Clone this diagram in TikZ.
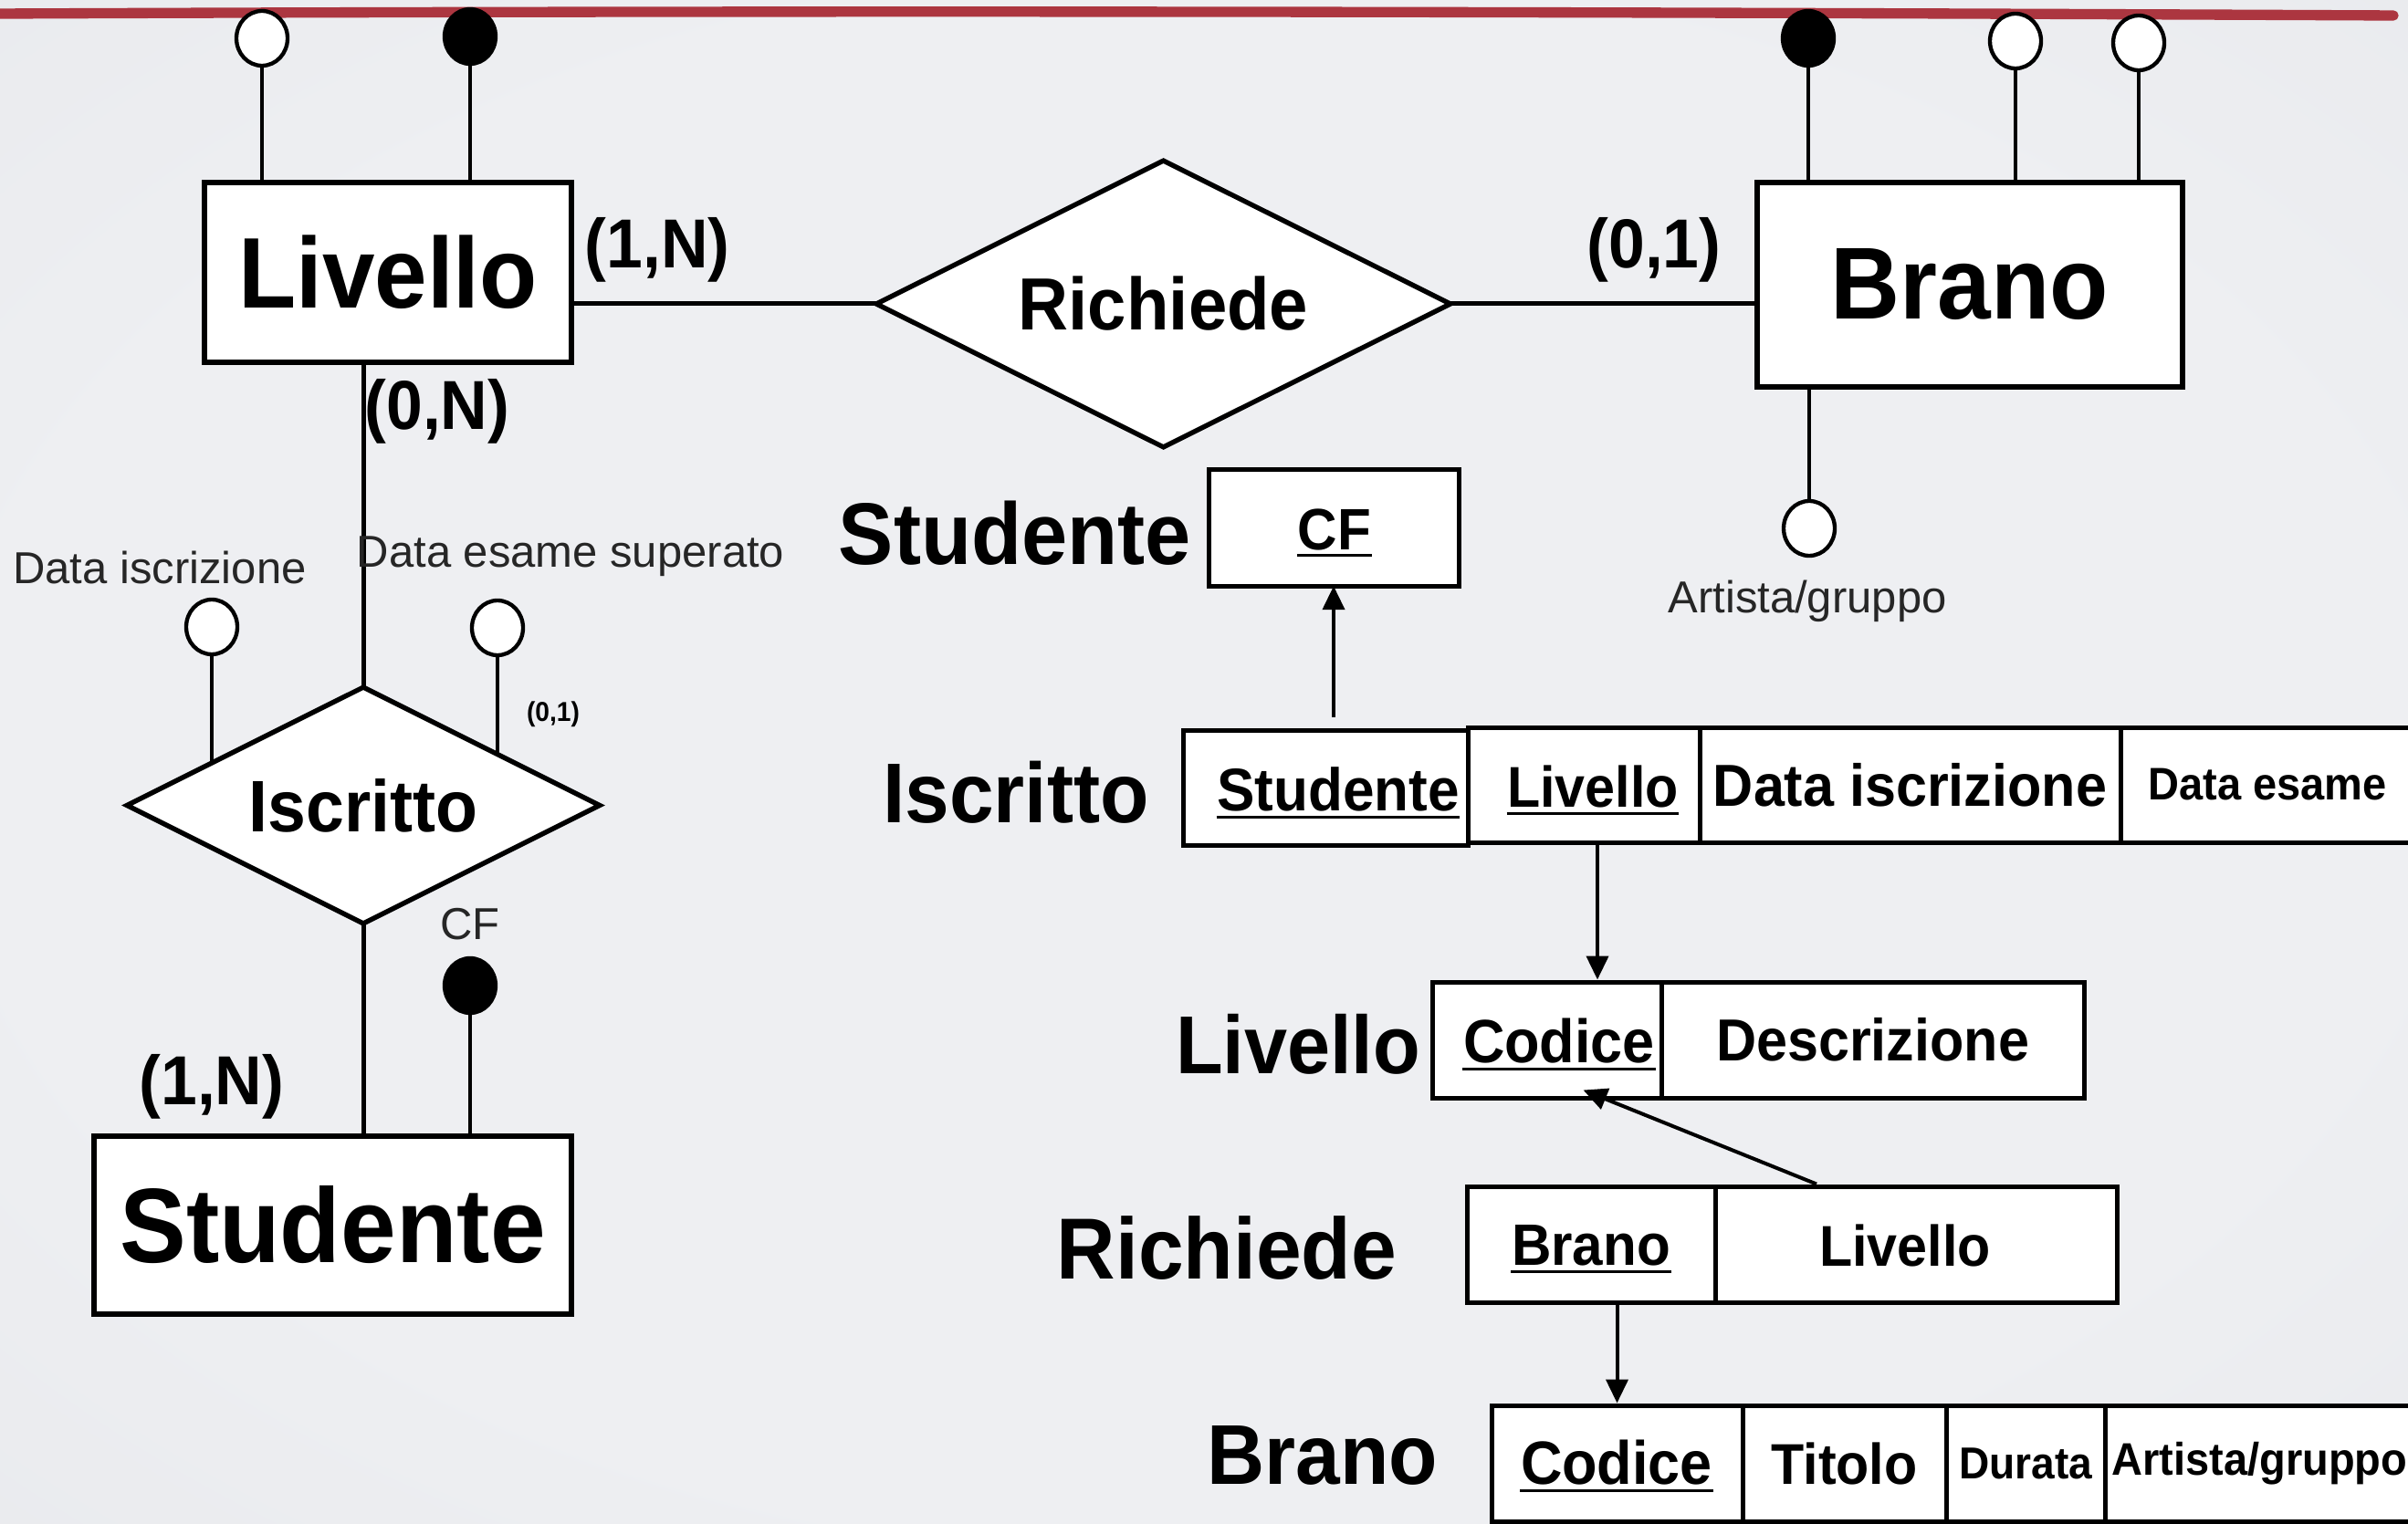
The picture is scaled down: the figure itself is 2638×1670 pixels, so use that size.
\documentclass[tikz,border=0pt]{standalone}
\usepackage{fontspec}
\setmainfont{Liberation Sans}
\newfontfamily\heavy{Liberation Sans Bold}[FakeStretch=0.94]
\usetikzlibrary{shapes.geometric,arrows.meta}
\pgfdeclarelayer{bg}
\pgfsetlayers{bg,main}
\definecolor{bgin}{HTML}{EEEFF2}
\definecolor{bgout}{HTML}{DBDDE1}
\definecolor{slide}{HTML}{AC3640}
\definecolor{thin}{HTML}{262626}
\pgfdeclareradialshading{vignette}{\pgfpoint{0bp}{0bp}}{color(0bp)=(bgin); color(25bp)=(bgin); color(72bp)=(bgout)}
\newcommand\fs[1]{\fontsize{#1}{#1}\selectfont}
\tikzset{
  ent/.style={draw, line width=1.8pt, fill=white, inner sep=0pt, rectangle},
  rel/.style={draw, diamond, aspect=2, line width=1.6pt, fill=white, inner sep=0pt},
  attr/.style={draw, ellipse, line width=1.3pt, fill=white, minimum width=16.8pt, minimum height=18pt, inner sep=0pt},
  keyattr/.style={attr, fill=black},
  link/.style={line width=1.5pt},
  alink/.style={line width=1.2pt},
  card/.style={inner sep=0pt, font=\heavy\fs{22.8pt}},
  lbl/.style={inner sep=0pt, text=thin, font=\fs{14.7pt}},
  tname/.style={inner sep=0pt},
  cell/.style={draw, line width=1.5pt, fill=white, inner sep=0pt, minimum height=38.1pt, font=\heavy\fs{19.5pt}},
  ctext/.style={inner sep=0pt},
  fk/.style={line width=1.2pt, -{Triangle[length=7.8pt,width=7.2pt]}},
  uline/.style={line width=0.9pt},
  redline/.style={draw=slide, line width=3.4pt, line cap=round}
}
\begin{document}
\begin{tikzpicture}[x=0.3pt,y=-0.3pt]
\useasboundingbox (0,0) rectangle (2638,1670);

% ---------- E/R schema ----------
\node[ent, minimum width=120.6pt, minimum height=59.1pt, font=\heavy\fs{33pt}] (livello) at (425,298.5) {Livello};
\node[ent, minimum width=139.8pt, minimum height=67.2pt, font=\heavy\fs{33.6pt}] (brano) at (2158,312) {Brano};
\node[ent, minimum width=156.9pt, minimum height=58.5pt, font=\heavy\fs{34.8pt}] (studente) at (364.5,1342.5) {Studente};
\node[rel, minimum width=189.3pt, minimum height=94.8pt, font=\heavy\fs{24.3pt}] (richiede) at (1274.5,333) {Richiede};
\node[rel, minimum width=156pt, minimum height=78.3pt, font=\heavy\fs{24pt}] (iscritto) at (398,882.5) {Iscritto};

% attributes
\node[attr]    (lvA)  at (287,42) {};
\node[keyattr] (lvK)  at (515,40) {};
\node[keyattr] (brK)  at (1981,42) {};
\node[attr]    (brA1) at (2208,45) {};
\node[attr]    (brA2) at (2343,47) {};
\node[attr]    (brA3) at (1982,579) {};
\node[attr]    (isA1) at (232,687) {};
\node[attr]    (isA2) at (545,688) {};
\node[keyattr] (stK)  at (515,1080) {};

% attribute names
\node[lbl, anchor=base] (lArt) at (1980,672) {Artista/gruppo};
\node[lbl, anchor=base] (lDi)  at (175,640) {Data iscrizione};
\node[lbl, anchor=base] (lDe)  at (625,622) {Data esame superato};
\node[lbl, anchor=base] (lCF)  at (515,1029) {CF};

% cardinalities
\node[card] (c1) at (720,274) {(1,N)};
\node[card] (c2) at (1812,274) {(0,1)};
\node[card] (c3) at (479,451) {(0,N)};
\node[card] (c4) at (232,1191) {(1,N)};
\node[card, font=\heavy\fs{9pt}] (c5) at (606,783) {(0,1)};

% ---------- relational schema ----------
\node[tname, font=\heavy\fs{28.8pt}] (nSt) at (1112,584) {Studente};
\node[tname, font=\heavy\fs{27.9pt}] (nIs) at (1113,868) {Iscritto};
\node[tname, font=\heavy\fs{27pt}]   (nLv) at (1422,1144) {Livello};
\node[tname, font=\heavy\fs{28.5pt}] (nRi) at (1344,1368) {Richiede};
\node[tname, font=\heavy\fs{27.9pt}] (nBr) at (1449,1595) {Brano};

% Studente(CF)
\node[cell, minimum width=82.2pt, minimum height=38.4pt] (cfCell) at (1461,579) {};
\node[ctext, font=\heavy\fs{19.2pt}] (tCF) at (1462,580) {CF};

% Iscritto(Studente, Livello, Data iscrizione, Data esame)
\node[cell, minimum width=93.6pt, minimum height=37.8pt] (isStud) at (1452,863) {};
\node[cell, minimum width=76.2pt, minimum height=37.8pt] (isLiv) at (1735,860) {};
\node[cell, minimum width=138.3pt, minimum height=37.8pt] (isData) at (2092.5,860) {Data iscrizione};
\node[cell, minimum width=96.6pt, minimum height=37.8pt, font=\heavy\fs{15pt}] (isEsame) at (2484,860) {Data esame};
\node[ctext, font=\heavy\fs{19.8pt}] (tIsStud) at (1466,865) {Studente};
\node[ctext, font=\heavy\fs{18.9pt}] (tIsLiv) at (1745,862) {Livello};

% Livello(Codice, Descrizione)
\node[cell, minimum width=75.3pt] (lvCod) at (1694.5,1139.5) {};
\node[cell, minimum width=138.9pt] (lvDesc) at (2051.5,1139.5) {Descrizione};
\node[ctext, font=\heavy\fs{20.1pt}] (tLvCod) at (1708,1141) {Codice};

% Richiede(Brano, Livello)
\node[cell, minimum width=81.6pt] (riBrano) at (1743,1363.5) {};
\node[cell, minimum width=132pt] (riLiv) at (2099,1363.5) {};
\node[ctext, font=\heavy\fs{19.2pt}] (tRiBr) at (1743,1365) {Brano};
\node[ctext, font=\heavy\fs{18.9pt}] (tRiLiv) at (2087,1365) {Livello};

% Brano(Codice, Titolo, Durata, Artista/gruppo)
\node[cell, minimum width=82.5pt] (brCod) at (1771.5,1603.5) {};
\node[cell, minimum width=66.9pt, font=\heavy\fs{18.9pt}] (brTit) at (2020.5,1603.5) {Titolo};
\node[cell, minimum width=52.2pt, font=\heavy\fs{14.7pt}] (brDur) at (2219,1603.5) {Durata};
\node[cell, minimum width=101.7pt, font=\heavy\fs{15pt}] (brArt) at (2475.5,1603.5) {Artista/gruppo};
\node[ctext, font=\heavy\fs{20.1pt}] (tBrCod) at (1771,1603) {Codice};

% key underlines
\foreach \t in {tCF,tIsStud,tIsLiv,tLvCod,tRiBr,tBrCod}
  \draw[uline] ([yshift=-2pt]\t.base west) -- ([yshift=-2pt]\t.base east);

% foreign keys
\draw[fk, shorten <=3.6pt, shorten >=-1pt] (cfCell.south |- isStud.north) -- (cfCell.south);
\coordinate (a2) at ([xshift=4.5pt]isLiv.south);
\draw[fk] (a2) -- (a2 |- lvCod.north);
\coordinate (a3s) at ([xshift=-32.7pt]riLiv.north);
\coordinate (a3e) at ([xshift=12pt,yshift=3.3pt]lvCod.south);
\draw[fk] (a3s) -- (a3e);
\draw[fk] (brCod.north |- riBrano.south) -- (brCod.north);

% ---------- background, slide rule and connectors ----------
\begin{pgfonlayer}{bg}
  \shade[shading=vignette] (0,0) rectangle (2638,1670);
  \coordinate (rl0) at (0,15);
  \coordinate (rl1) at (2622,17);
  \draw[redline] (rl0) .. controls (900,11) and (1800,13) .. (rl1);
  \draw[link] (richiede.center -| livello.center) -- (richiede.center -| brano.center);
  \draw[link] (iscritto.center |- livello.center) -- (iscritto.center |- studente.center);
  \foreach \a in {lvA,lvK} \draw[alink] (\a.center) -- (\a.center |- livello.center);
  \foreach \a in {brK,brA1,brA2,brA3} \draw[alink] (\a.center) -- (\a.center |- brano.center);
  \foreach \a in {isA1,isA2} \draw[alink] (\a.center) -- (\a.center |- iscritto.center);
  \draw[alink] (stK.center) -- (stK.center |- studente.center);
\end{pgfonlayer}
\end{tikzpicture}
\end{document}
